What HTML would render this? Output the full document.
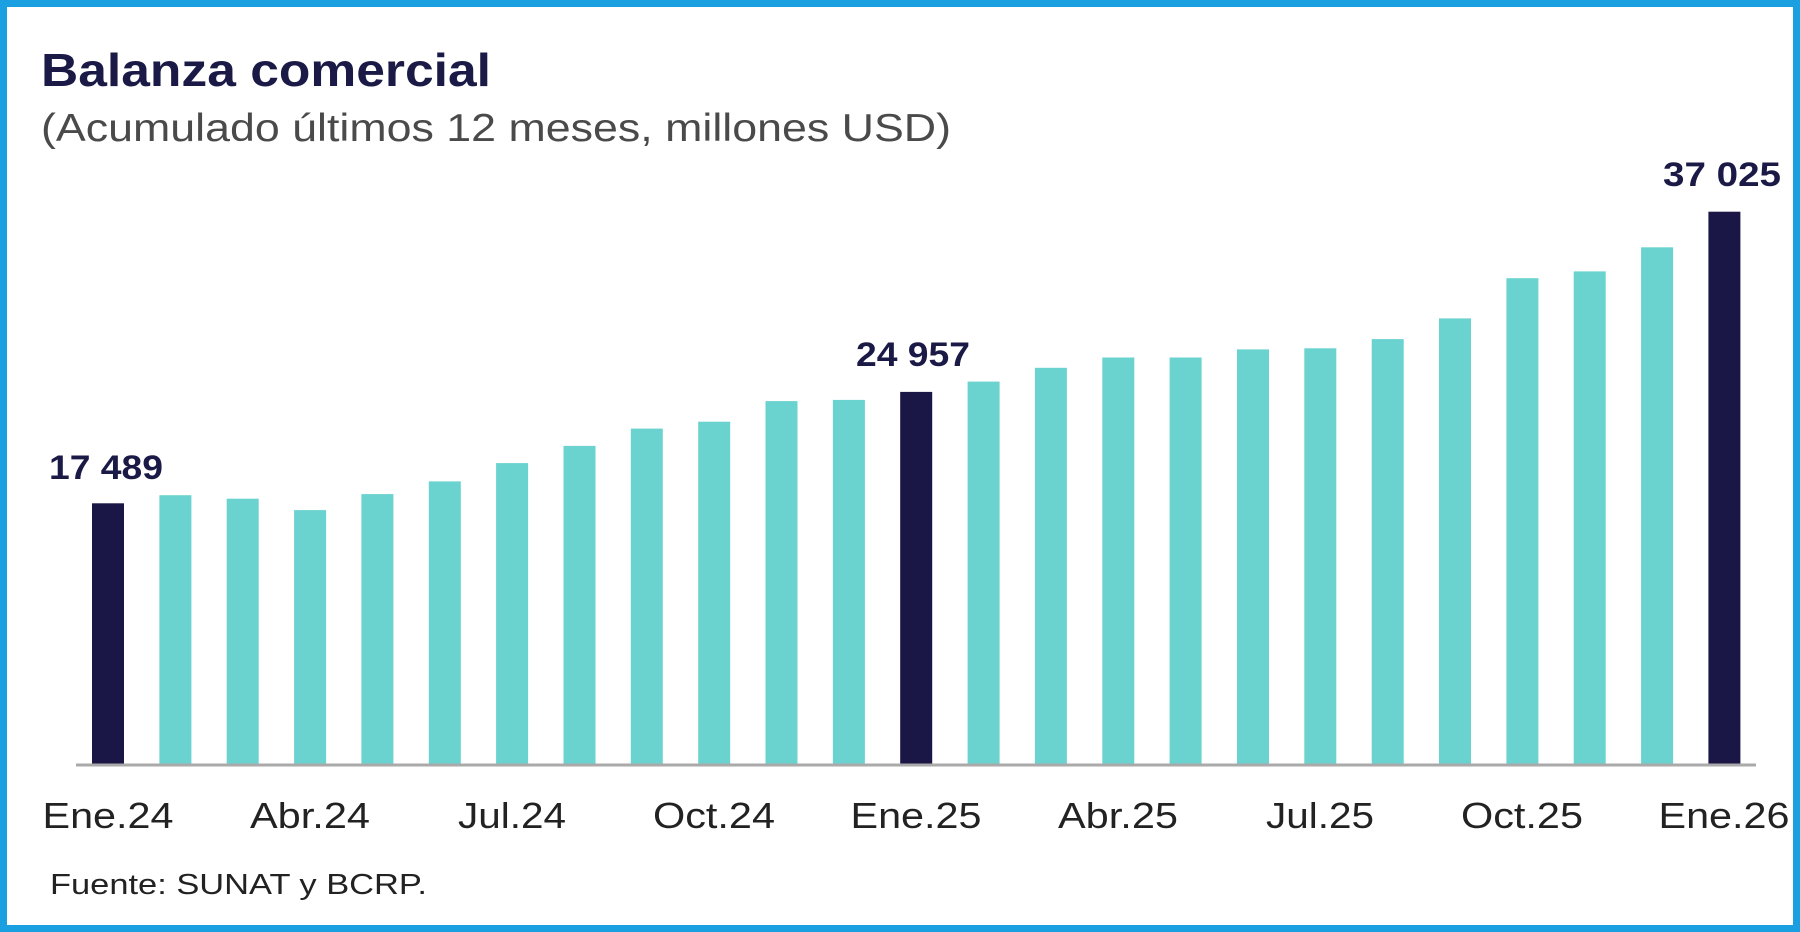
<!DOCTYPE html>
<html><head><meta charset="utf-8"><style>
html,body{margin:0;padding:0;background:#fff;}
svg{display:block;}
text{font-family:"Liberation Sans",Arial,sans-serif;}
</style></head><body>
<svg width="1800" height="932" viewBox="0 0 1800 932" xmlns="http://www.w3.org/2000/svg">
<rect x="0" y="0" width="1800" height="932" fill="#1a9fe0"/>
<rect x="7" y="7" width="1786" height="918" fill="#ffffff"/>
<text x="41" y="86" font-size="46" font-weight="bold" fill="#1b1a46" textLength="450" lengthAdjust="spacingAndGlyphs">Balanza comercial</text>
<text x="41" y="141" font-size="39" fill="#4a4a4a" textLength="910" lengthAdjust="spacingAndGlyphs">(Acumulado últimos 12 meses, millones USD)</text>
<g fill="#6ad3cf">
<rect x="159.4" y="495.2" width="32" height="269.8"/>
<rect x="226.7" y="498.7" width="32" height="266.3"/>
<rect x="294.1" y="510.1" width="32" height="254.9"/>
<rect x="361.4" y="494.1" width="32" height="270.9"/>
<rect x="428.8" y="481.4" width="32" height="283.6"/>
<rect x="496.1" y="463.1" width="32" height="301.9"/>
<rect x="563.5" y="445.9" width="32" height="319.1"/>
<rect x="630.8" y="428.6" width="32" height="336.4"/>
<rect x="698.2" y="421.7" width="32" height="343.3"/>
<rect x="765.5" y="401.1" width="32" height="363.9"/>
<rect x="832.9" y="399.9" width="32" height="365.1"/>
<rect x="967.6" y="381.6" width="32" height="383.4"/>
<rect x="1034.9" y="367.8" width="32" height="397.2"/>
<rect x="1102.3" y="357.5" width="32" height="407.5"/>
<rect x="1169.6" y="357.5" width="32" height="407.5"/>
<rect x="1237.0" y="349.4" width="32" height="415.6"/>
<rect x="1304.3" y="348.3" width="32" height="416.7"/>
<rect x="1371.7" y="339.1" width="32" height="425.9"/>
<rect x="1439.0" y="318.4" width="32" height="446.6"/>
<rect x="1506.4" y="278.2" width="32" height="486.8"/>
<rect x="1573.7" y="271.4" width="32" height="493.6"/>
<rect x="1641.1" y="247.3" width="32" height="517.7"/>
</g>
<g fill="#1a1746">
<rect x="92" y="503.3" width="32" height="261.7"/>
<rect x="900.2" y="391.9" width="32" height="373.1"/>
<rect x="1708.4" y="211.7" width="32" height="553.3"/>
</g>
<line x1="76" y1="765" x2="1756" y2="765" stroke="#aaaaaa" stroke-width="3"/>
<g font-size="36" fill="#222" text-anchor="middle">
<text x="108" y="828" textLength="131" lengthAdjust="spacingAndGlyphs">Ene.24</text>
<text x="310" y="828" textLength="120" lengthAdjust="spacingAndGlyphs">Abr.24</text>
<text x="512" y="828" textLength="108" lengthAdjust="spacingAndGlyphs">Jul.24</text>
<text x="714" y="828" textLength="122" lengthAdjust="spacingAndGlyphs">Oct.24</text>
<text x="916" y="828" textLength="131" lengthAdjust="spacingAndGlyphs">Ene.25</text>
<text x="1118" y="828" textLength="120" lengthAdjust="spacingAndGlyphs">Abr.25</text>
<text x="1320" y="828" textLength="108" lengthAdjust="spacingAndGlyphs">Jul.25</text>
<text x="1522" y="828" textLength="122" lengthAdjust="spacingAndGlyphs">Oct.25</text>
<text x="1724" y="828" textLength="131" lengthAdjust="spacingAndGlyphs">Ene.26</text>
</g>
<g font-size="34" font-weight="bold" fill="#1b1a46" text-anchor="middle">
<text x="106" y="479" textLength="114" lengthAdjust="spacingAndGlyphs">17 489</text>
<text x="913" y="366" textLength="114" lengthAdjust="spacingAndGlyphs">24 957</text>
<text x="1722" y="186" textLength="118" lengthAdjust="spacingAndGlyphs">37 025</text>
</g>
<text x="50" y="894" font-size="29" fill="#222" textLength="377" lengthAdjust="spacingAndGlyphs">Fuente: SUNAT y BCRP.</text>
</svg>
</body></html>
